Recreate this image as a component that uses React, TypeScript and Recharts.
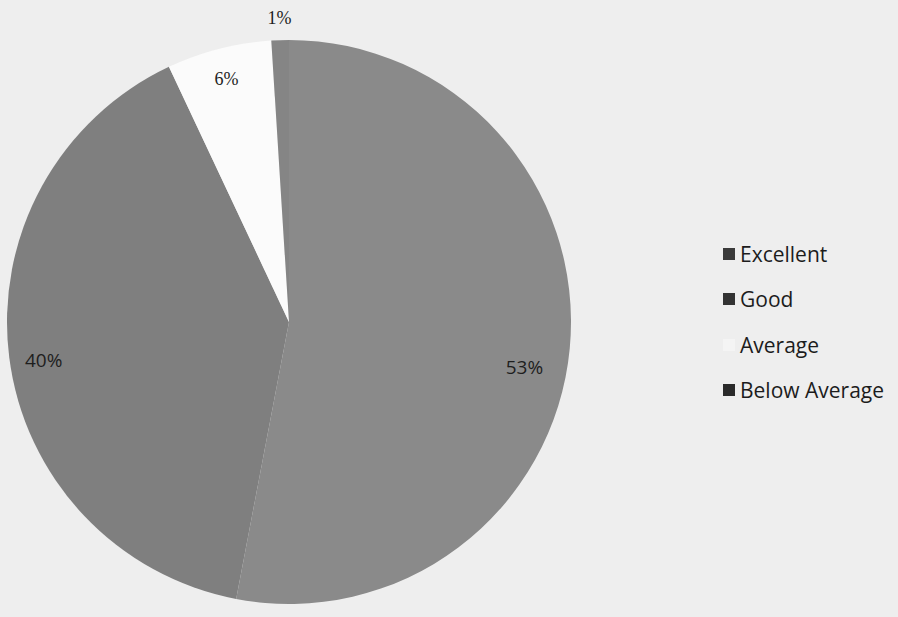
import React from 'react';
import { PieChart, Pie, Cell, Legend } from 'recharts';

const categories = ['Excellent', 'Good', 'Average', 'Below Average'];
const shares = [53, 40, 6, 1];
const labelTexts = ['53%', '40%', '6%', '1%'];

const SLICE_COLORS = ['#8a8a8a', '#7f7f7f', '#fbfbfb', '#858585'];
const ICON_COLORS = ['#3a3a3a', '#333333', '#f4f4f4', '#2a2a2a'];

// label placement tweaks (radius factor, angle shift in degrees)
const LABEL_RADIUS = [0.85, 0.88, 0.89, 1.08];
const LABEL_SHIFT = [-5.5, 1.5, 0, 0];

const data = categories.map((name, i) => ({ name, value: shares[i], label: labelTexts[i] }));

const RAD = Math.PI / 180;

function renderLabel(props: any) {
  const { cx, cy, midAngle, outerRadius, index } = props;
  const r = outerRadius * LABEL_RADIUS[index];
  const a = midAngle + LABEL_SHIFT[index];
  const x = cx + r * Math.cos(-a * RAD);
  const y = cy + r * Math.sin(-a * RAD);
  const serif = index >= 2;
  return (
    <text
      x={x}
      y={y}
      textAnchor="middle"
      dominantBaseline="central"
      fill="#1e1e1e"
      fontSize={serif ? 18 : 19}
      fontFamily={serif ? '"Liberation Serif", serif' : '"Open Sans", sans-serif'}
    >
      {data[index].label}
    </text>
  );
}

function LegendContent() {
  return (
    <div style={{ fontFamily: '"Open Sans", sans-serif', fontSize: 21, color: '#1c1c1c' }}>
      {data.map((d, i) => (
        <div key={d.name} style={{ display: 'flex', alignItems: 'center', height: 45.5 }}>
          <span
            style={{
              display: 'inline-block',
              width: 12,
              height: 12,
              background: ICON_COLORS[i],
              marginRight: 5,
            }}
          />
          <span>{d.name}</span>
        </div>
      ))}
    </div>
  );
}

export default function App() {
  return (
    <div style={{ position: 'absolute', left: 0, top: 0, width: 898, height: 617, background: '#eeeeee' }}>
      <PieChart width={898} height={617} margin={{ top: 0, right: 0, bottom: 0, left: 0 }}>
        <Pie
          data={data}
          dataKey="value"
          nameKey="name"
          cx={289}
          cy={322}
          outerRadius={282}
          startAngle={90}
          endAngle={-270}
          stroke="none"
          label={renderLabel}
          labelLine={false}
          isAnimationActive={false}
        >
          {data.map((d, i) => (
            <Cell key={d.name} fill={SLICE_COLORS[i]} />
          ))}
        </Pie>
        <Legend
          layout="vertical"
          verticalAlign="top"
          align="right"
          wrapperStyle={{ left: 723, top: 231, right: 'auto' }}
          content={<LegendContent />}
        />
      </PieChart>
    </div>
  );
}
